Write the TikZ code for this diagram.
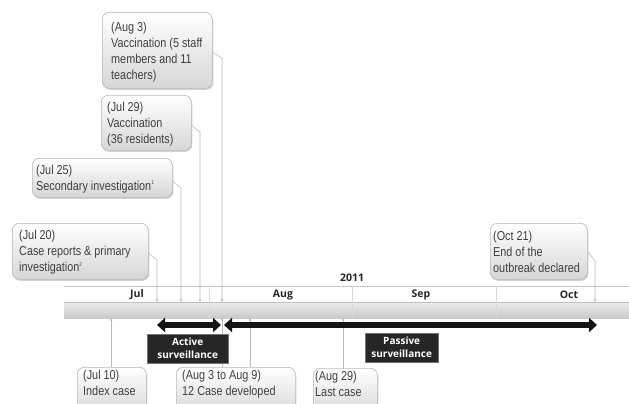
\documentclass[tikz,border=0pt]{standalone}
\usepackage{fontspec}
\setmainfont{Liberation Sans}
\newfontfamily\boxfont[FakeStretch=0.84]{Liberation Sans}
\newfontfamily\labfont{Open Sans}
\usetikzlibrary{arrows.meta,shadows}
\newcommand{\supnum}[1]{\raisebox{0.8ex}{\fontsize{5.5}{6}\selectfont #1}}
\newcommand{\evboxfont}{\boxfont\fontsize{12.9}{16}\selectfont}
\begin{document}
\begin{tikzpicture}[x=1pt,y=-1pt,
 evbox/.style={draw=gray!55, line width=0.6pt, rounded corners=7pt, top color=white, bottom color=gray!32,
   drop shadow={shadow xshift=1pt,shadow yshift=-1.5pt,opacity=0.35},
   anchor=north west, inner sep=0pt},
 evtext/.style={align=left, font=\evboxfont, text=black!75, inner sep=0pt},
 conn/.style={draw=gray!55, line width=0.55pt},
 tick/.style={conn, -{Stealth[length=3pt,width=2.6pt]}},
 month/.style={font=\labfont\bfseries\fontsize{10.5}{12}\selectfont, text=black!85},
 survbox/.style={fill=black!85, draw=black!55, text=white, font=\labfont\bfseries\fontsize{10}{13}\selectfont,
   align=center, anchor=north west, inner sep=0pt},
 bigarrow/.style={line width=5.5pt, draw=black!92, {Triangle[length=8pt,width=14pt]}-{Triangle[length=8pt,width=14pt]}},
]
\useasboundingbox (0,0) rectangle (629,404);
\fill[white] (0,0) rectangle (629,404);
\clip (0,0) rectangle (629,404);

% timeline
\shade[top color=gray!15, bottom color=gray!42] (64,302) rectangle (629,318);
\draw[gray!45, line width=0.6pt] (64,286) -- (629,286);
\draw[gray!50, line width=0.4pt] (64,302) -- (629,302);
\foreach \xx in {209,352,496} \draw[white!70!gray, line width=0.7pt] (\xx,286) -- (\xx,318);
\node[month] (m1) at (137,295) {Jul};
\node[month] (m2) at (283,295) {Aug};
\node[month] (m3) at (421,295) {Sep};
\node[month] (m4) at (569,295) {Oct};
\node[month] (yr) at (352,278) {2011};

\coordinate (t1) at (157,302);
\coordinate (t2) at (181,302);
\coordinate (t3) at (200,302);
\coordinate (t4) at (222,302);
\coordinate (t5) at (595,302);
\coordinate (b1) at (111,318);
\coordinate (b2) at (222,318);
\coordinate (b3) at (250,318);
\coordinate (b4) at (343,318);

% upper boxes
\node[evbox, minimum width=110pt, minimum height=76pt] (aug3) at (102,12) {};
\node[evtext, anchor=west] (aug3t) at ([xshift=9pt,yshift=-2pt]aug3.west)
  {(Aug 3)\\Vaccination (5 staff\\members and 11\\teachers)};
\node[evbox, minimum width=90pt, minimum height=55pt] (jul29) at (101,95) {};
\node[evtext, anchor=west] (jul29t) at ([xshift=6pt,yshift=-1pt]jul29.west)
  {(Jul 29)\\Vaccination\\(36 residents)};
\node[evbox, minimum width=140pt, minimum height=39pt] (jul25) at (32,158) {};
\node[evtext, anchor=west] (jul25t) at ([xshift=4pt,yshift=-1pt]jul25.west)
  {(Jul 25)\\Secondary investigation\supnum{1}};
\node[evbox, minimum width=136pt, minimum height=56pt] (jul20) at (12,223) {};
\node[evtext, anchor=west] (jul20t) at ([xshift=7pt,yshift=-1pt]jul20.west)
  {(Jul 20)\\Case reports \& primary\\investigation\supnum{2}};
\node[evbox, minimum width=97pt, minimum height=56pt] (oct21) at (490,223) {};
\node[evtext, anchor=west] (oct21t) at ([xshift=3pt,yshift=-1pt]oct21.west)
  {(Oct 21)\\End of the\\outbreak declared};

% lower boxes
\node[evbox, minimum width=69pt, minimum height=48pt] (jul10) at (77,367) {};
\node[evtext, anchor=north west] (jul10t) at ([xshift=6pt,yshift=-3pt]jul10.north west)
  {(Jul 10)\\Index case};
\node[evbox, minimum width=119pt, minimum height=48pt] (aug39) at (176,367) {};
\node[evtext, anchor=north west] (aug39t) at ([xshift=6pt,yshift=-3pt]aug39.north west)
  {(Aug 3 to Aug 9)\\12 Case developed};
\node[evbox, minimum width=64pt, minimum height=48pt] (aug29) at (313,368) {};
\node[evtext, anchor=north west] (aug29t) at ([xshift=2pt,yshift=-3pt]aug29.north west)
  {(Aug 29)\\Last case};

% connectors from upper boxes
\draw[tick] ([yshift=-2pt]aug3.east) -- (222,58) -- (t4);
\draw[tick] ([yshift=-2.5pt]jul29.east) -- (200,132) -- (t3);
\draw[tick] ([yshift=-3.5pt]jul25.east) -- (181,188) -- (t2);
\draw[tick] ([yshift=-2pt]jul20.east) -- (157,260) -- (t1);
\draw[tick] (oct21.east) -- (595,261) -- (t5);

% connectors from lower boxes
\draw[tick] (jul10.north -| b1) -- (b1);
\draw[tick] (aug39.north -| b2) -- (b2);
\draw[tick] (aug39.north -| b3) -- (b3);
\draw[tick] (aug29.north -| b4) -- (b4);

% surveillance arrows
\coordinate (a1) at (157,325);
\coordinate (a2) at (221,325);
\coordinate (p1) at (224,325);
\coordinate (p2) at (597,325);
\draw[bigarrow] (a1) -- (a2);
\draw[bigarrow] (p1) -- (p2);

\node[survbox, minimum width=81pt, minimum height=29pt] (act) at (147,334) {Active\\surveillance};
\node[survbox, minimum width=73pt, minimum height=29pt] (pas) at (365,333) {Passive\\surveillance};
\end{tikzpicture}
\end{document}
